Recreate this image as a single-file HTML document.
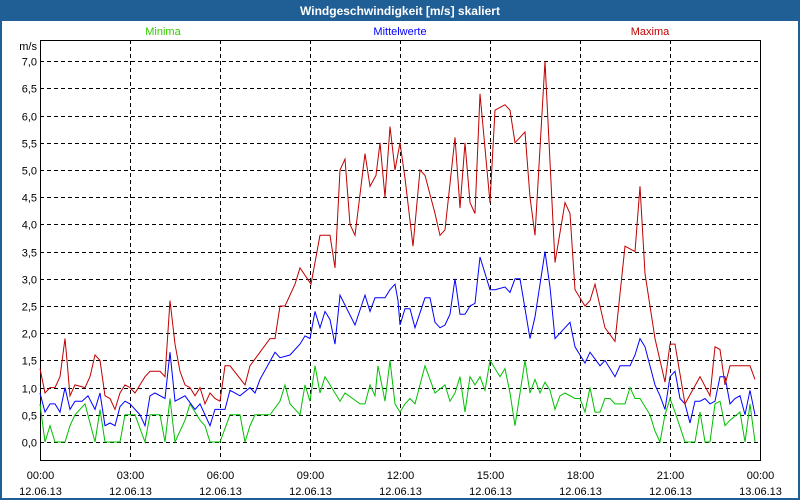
<!DOCTYPE html>
<html><head><meta charset="utf-8"><style>
html,body{margin:0;padding:0;}
body{width:800px;height:500px;overflow:hidden;background:#fff;font-family:"Liberation Sans",sans-serif;position:relative;}
#wrap{position:absolute;left:0;top:0;width:796px;height:496px;border:2px solid #1f5f96;background:#fff;}
#title{position:absolute;left:0;top:0;width:796px;height:19px;background:#1f5f96;color:#fff;font-weight:bold;font-size:12px;line-height:19px;text-align:center;}
svg{position:absolute;left:0;top:0;}
</style></head><body>
<div id="wrap">
<div id="title">Windgeschwindigkeit [m/s] skaliert</div>
</div>
<svg id="chart" width="800" height="500"></svg>
<script>
const yTicks=[0,0.5,1,1.5,2,2.5,3,3.5,4,4.5,5,5.5,6,6.5,7];
const xTickHours=[0,3,6,9,12,15,18,21,24];
const xTickTimes=["00:00","03:00","06:00","09:00","12:00","15:00","18:00","21:00","00:00"];
const xTickDates=["12.06.13","12.06.13","12.06.13","12.06.13","12.06.13","12.06.13","12.06.13","12.06.13","13.06.13"];
const maxTimes=[0,10,20,30,40,50,54,60,70,90,100,110,120,130,140,150,160,170,180,190,200,210,220,230,240,250,260,270,280,290,300,310,320,330,340,350,360,370,380,410,420,440,460,470,480,490,510,520,542,560,580,590,600,610,620,630,650,660,672,680,690,700,710,720,730,746,760,770,790,800,810,830,840,850,860,870,880,900,910,930,940,950,970,980,990,1010,1030,1050,1060,1070,1090,1100,1110,1130,1150,1170,1190,1200,1210,1230,1250,1260,1270,1290,1320,1340,1350,1360,1370,1380,1400,1420,1430];
const maxValues=[1.35,0.9,1.0,1.0,1.2,1.9,1.5,0.85,1.05,1.0,1.2,1.6,1.5,0.85,0.8,0.6,0.9,1.05,1.0,0.9,1.05,1.2,1.3,1.3,1.3,1.2,2.6,1.8,1.3,1.05,1.0,0.85,1.0,0.7,0.9,0.8,0.75,1.4,1.4,1.05,1.4,1.65,1.9,1.9,2.5,2.5,2.9,3.2,2.9,3.8,3.8,3.2,5.0,5.2,4.0,3.8,5.3,4.7,4.9,5.5,4.5,5.8,5.0,5.5,4.85,3.6,5.0,4.9,4.2,3.8,3.9,5.6,4.3,5.5,4.4,4.2,6.4,4.4,6.1,6.2,6.1,5.5,5.7,4.5,3.8,7.0,3.3,4.4,4.2,2.8,2.5,2.6,2.9,2.1,1.85,3.6,3.5,4.7,3.1,1.9,1.1,1.8,1.8,0.7,1.2,0.85,1.75,1.7,1.05,1.4,1.4,1.4,1.15];
const meanTimes=[0,10,20,30,40,50,60,70,84,96,110,120,130,140,150,160,170,180,200,210,220,230,250,260,270,290,310,320,340,350,370,380,400,420,430,440,470,480,500,520,530,540,550,560,570,580,590,600,630,650,660,670,690,700,710,716,720,730,740,750,770,780,790,800,810,820,830,840,850,860,870,880,900,910,930,940,950,960,980,990,1010,1020,1030,1060,1070,1080,1090,1100,1120,1130,1150,1160,1180,1190,1200,1210,1230,1240,1250,1260,1270,1280,1290,1300,1310,1320,1330,1340,1350,1360,1370,1380,1390,1400,1410,1420,1430];
const meanValues=[0.9,0.55,0.7,0.7,0.55,1.0,0.6,0.75,0.75,0.85,0.6,0.9,0.3,0.35,0.3,0.65,0.75,0.7,0.5,0.3,0.85,0.9,0.8,1.65,0.75,0.85,0.6,0.7,0.3,0.6,0.6,0.95,0.85,1.0,0.9,1.15,1.65,1.55,1.6,1.8,1.95,1.9,2.4,2.1,2.4,2.25,1.8,2.7,2.15,2.7,2.4,2.65,2.65,2.8,2.9,2.6,2.15,2.45,2.45,2.1,2.65,2.65,2.2,2.1,2.15,2.35,3.0,2.35,2.35,2.5,2.55,3.4,2.8,2.8,2.85,2.75,3.0,3.0,1.9,2.3,3.5,2.85,1.9,2.2,1.75,1.6,1.45,1.65,1.4,1.5,1.2,1.4,1.4,1.6,1.9,1.75,1.05,0.85,0.6,1.2,1.3,0.8,0.7,0.35,0.75,0.75,0.8,0.7,0.75,1.2,1.2,0.7,0.8,0.85,0.5,0.95,0.5];
const minTimes=[0,10,20,30,50,60,70,90,110,120,130,160,170,190,210,220,240,250,260,270,290,300,320,330,340,360,380,400,410,420,430,460,480,490,500,520,530,540,550,560,570,600,610,640,650,660,670,676,690,700,710,720,730,740,750,770,790,810,820,830,840,850,860,870,880,890,900,920,930,940,950,960,970,980,990,1000,1010,1020,1030,1040,1050,1070,1080,1090,1100,1110,1120,1130,1140,1150,1170,1180,1190,1200,1220,1230,1240,1250,1260,1270,1290,1310,1320,1330,1340,1350,1360,1370,1380,1400,1410,1420,1430];
const minValues=[0.7,0,0.3,0,0,0.3,0.5,0.7,0,0.6,0,0,0.5,0.5,0,0.5,0.5,0,0.8,0,0.4,0.7,0.4,0.3,0,0,0.5,0.5,0,0.3,0.5,0.5,0.75,1.05,0.7,0.5,1.05,0.75,1.4,0.9,1.2,0.75,0.9,0.7,0.7,1.05,0.85,1.4,0.75,1.5,0.7,0.55,0.7,0.8,0.7,1.4,0.9,1.05,0.75,0.9,1.2,0.55,1.2,1.05,1.2,0.95,1.5,1.2,1.35,0.9,0.3,0.9,1.5,0.9,1.15,0.9,1.1,0.95,0.6,0.85,0.9,0.8,0.8,0.55,1.0,0.55,0.55,0.8,0.8,0.7,0.7,1.0,0.8,0.8,0.5,0.2,0,0.5,0.8,0.55,0,0,0.55,0,0,0.7,0.75,0.3,0.4,0.55,0,0.7,0];

const svg=document.getElementById('chart');
const NS='http://www.w3.org/2000/svg';
const L=40,R=760,T=40,B=460;
const Y0=442,PER=54.4;
function yScale(v){return Y0-v*PER;}
function xScale(min){return L+(min/1440)*(R-L);}
function mk(tag,attrs){const e=document.createElementNS(NS,tag);for(const k in attrs)e.setAttribute(k,attrs[k]);svg.appendChild(e);return e;}

yTicks.forEach(v=>{
  const y=Math.round(yScale(v))+0.5;
  const g=mk('line',{x1:L,x2:R,y1:y,y2:y,stroke:'#000','stroke-width':1,'stroke-dasharray':'4,3'});
  
  
  const t=mk('text',{x:L-3,y:y+4,'text-anchor':'end','font-size':'11px','font-family':'Liberation Sans, sans-serif',fill:'#000'});
  t.textContent=v.toFixed(1).replace('.',',');
  
  
});
xTickHours.forEach((h,i)=>{
  const x=Math.round(xScale(h*60))+0.5;
  if(i>0&&i<xTickHours.length-1){
    const g=mk('line',{x1:x,x2:x,y1:T,y2:B,stroke:'#000','stroke-width':1,'stroke-dasharray':'4,3'});
    
    
  }
  const t1=mk('text',{x:x,y:479,'text-anchor':'middle','font-size':'11px','font-family':'Liberation Sans, sans-serif',fill:'#000'});
  t1.textContent=xTickTimes[i];
  
  
  const t2=mk('text',{x:x,y:495,'text-anchor':'middle','font-size':'11px','font-family':'Liberation Sans, sans-serif',fill:'#000'});
  t2.textContent=xTickDates[i];
  
  
});
const frame=mk('rect',{x:L+0.5,y:T+0.5,width:R-L,height:B-T,fill:'none',stroke:'#000','stroke-width':1});


const unit=mk('text',{x:37,y:50,'text-anchor':'end','font-size':'11px','font-family':'Liberation Sans, sans-serif',fill:'#000'});
unit.textContent='m/s';



function series(times,vals,color,name){
  const n=Math.min(times.length,vals.length);
  let d='';
  for(let i=0;i<n;i++){d+=(i?'L':'M')+xScale(times[i]).toFixed(1)+','+yScale(vals[i]).toFixed(1);}
  const p=mk('path',{d:d,fill:'none',stroke:color,'stroke-width':1});
  
  
}
series(minTimes,minValues,'#00c000','minima-line');
series(meanTimes,meanValues,'#0000ff','mittelwerte-line');
series(maxTimes,maxValues,'#c00000','maxima-line');

const legends=[['Minima','#33cc00',163,'legend-minima'],['Mittelwerte','#0000ff',400,'legend-mittelwerte'],['Maxima','#c00000',650,'legend-maxima']];
legends.forEach(l=>{
  const t=mk('text',{x:l[2],y:35,'text-anchor':'middle','font-size':'11px','font-family':'Liberation Sans, sans-serif',fill:l[1]});
  t.textContent=l[0];
  
  
});
</script>
</body></html>
